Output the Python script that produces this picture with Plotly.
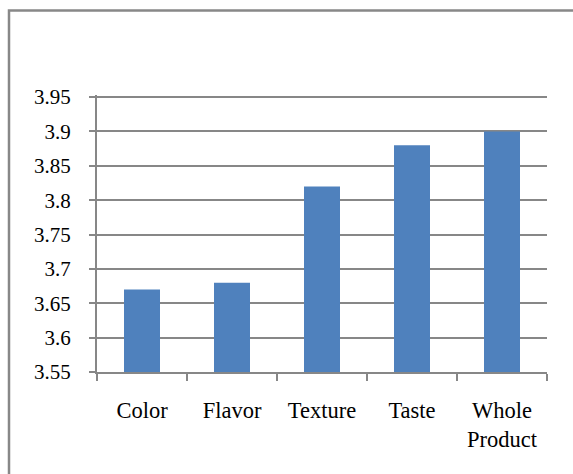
import plotly.graph_objects as go

categories = ["Color", "Flavor", "Texture", "Taste", "Whole<br>Product"]
values = [3.67, 3.68, 3.82, 3.88, 3.90]
y_ticks = [3.55, 3.6, 3.65, 3.7, 3.75, 3.8, 3.85, 3.9, 3.95]
y_labels = ["3.55", "3.6", "3.65", "3.7", "3.75", "3.8", "3.85", "3.9", "3.95"]

W, H = 573, 474
L, R, T, B = 97, 26, 95, 102
pw, ph = W - L - R, H - T - B

def px_x(x):
    return (x - L) / pw

def px_y(y):
    return (H - B - y) / ph

fig = go.Figure(go.Bar(x=categories, y=values, marker=dict(color="#4F81BD", line=dict(width=0))))

fam = "Liberation Serif, Times New Roman, serif"
xfont = dict(family=fam, size=22.5, color="black")
yfont = dict(family=fam, size=21, color="black")
axcol = "#878787"

fig.update_layout(
    width=W, height=H,
    margin=dict(l=L, r=R, t=T, b=B),
    paper_bgcolor="white", plot_bgcolor="white",
    bargap=0.6,
    showlegend=False,
    font=dict(family=fam),
    xaxis=dict(showline=True, linecolor=axcol, linewidth=2, ticks="outside", ticklen=7,
               tickcolor=axcol, tickwidth=2, showgrid=False, tickfont=xfont,
               ticklabelstandoff=17, tickson="boundaries"),
    yaxis=dict(range=[3.55, 3.953], tickvals=y_ticks, ticktext=y_labels, showline=True,
               linecolor=axcol, linewidth=2, ticks="outside", ticklen=6, tickcolor=axcol,
               tickwidth=2, showgrid=True, gridcolor=axcol, gridwidth=2, zeroline=False,
               tickfont=yfont, ticklabelstandoff=14),
    shapes=[dict(type="rect", xref="paper", yref="paper",
                 x0=px_x(9), x1=px_x(640), y0=px_y(10.5), y1=px_y(520),
                 line=dict(color="#888888", width=2.5), fillcolor="rgba(0,0,0,0)", layer="below")],
)

fig.write_html("out.html")
